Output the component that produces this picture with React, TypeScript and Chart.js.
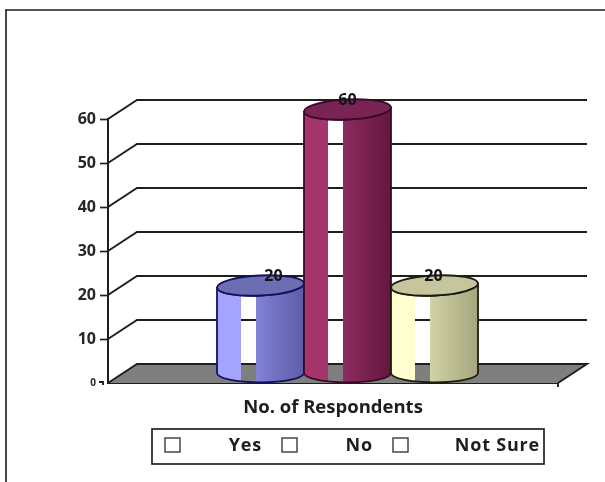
import React, { useEffect, useRef } from "react";
import { Chart, registerables } from "chart.js";

Chart.register(...registerables);

const categories = ["No. of Respondents"];
const seriesNames = ["Yes", "No", "Not Sure"];
const yesValues = [20];
const noValues = [60];
const notSureValues = [20];

const FONT = "'Open Sans'";
const INK = "#262626";

// Perspective of the chart box: how far the back wall sits from the front plane.
const DEPTH_X = 29;
const DEPTH_Y = 19;
const ELLIPSE_RY = 10;
const CAP_TILT = -0.05;

// Shading per cylinder: left face, right face start, right face end, top cap, outline.
const shades = [
  ["#a4a4ff", "#8282d8", "#5c5ca6", "#6c6eb4", "#12125c"],
  ["#a5356c", "#8c2c60", "#64163e", "#7a2456", "#3a0a28"],
  ["#ffffd0", "#d2d2a6", "#a6a67e", "#c6c69e", "#1c1c10"],
];
const labelNudge = [13, 0, -1];

const cylinderBox = {
  id: "cylinderBox",
  beforeDraw(chart: any) {
    const { ctx, width, height } = chart;
    ctx.save();
    ctx.fillStyle = "#ffffff";
    ctx.fillRect(0, 0, width, height);
    // Outer frame: top and left edges only
    ctx.strokeStyle = "#1c1c1c";
    ctx.lineWidth = 1.6;
    ctx.beginPath();
    ctx.moveTo(6, height);
    ctx.lineTo(6, 10);
    ctx.moveTo(5, 10);
    ctx.lineTo(width, 10);
    ctx.stroke();
    ctx.restore();
  },
  beforeDatasetsDraw(chart: any) {
    const { ctx, chartArea, scales } = chart;
    const y = scales.y;
    const { left, right } = chartArea;
    const base = y.getPixelForValue(0);
    ctx.save();
    // Floor
    ctx.fillStyle = "#7f7f7f";
    ctx.beginPath();
    ctx.moveTo(left, base);
    ctx.lineTo(left + DEPTH_X, base - DEPTH_Y);
    ctx.lineTo(right + DEPTH_X, base - DEPTH_Y);
    ctx.lineTo(right, base);
    ctx.closePath();
    ctx.fill();
    // Gridlines run along the side wall, then across the back wall
    ctx.strokeStyle = "#1e1e1e";
    ctx.lineWidth = 1.9;
    y.ticks.forEach((t: any) => {
      const py = y.getPixelForValue(t.value);
      ctx.beginPath();
      ctx.moveTo(left, py);
      ctx.lineTo(left + DEPTH_X, py - DEPTH_Y);
      ctx.lineTo(right + DEPTH_X, py - DEPTH_Y);
      if (t.value === 0) ctx.lineTo(right, py);
      ctx.stroke();
    });
    // Small tick at the right end of the floor, and the stub beside the zero label
    ctx.beginPath();
    ctx.moveTo(right, base);
    ctx.lineTo(right, base + 4);
    ctx.moveTo(left - 9, base - 1);
    ctx.lineTo(left - 5, base - 1);
    ctx.lineTo(left - 5, base + 2);
    ctx.stroke();
    ctx.restore();
  },
  afterDatasetsDraw(chart: any) {
    const { ctx } = chart;
    chart.data.datasets.forEach((ds: any, i: number) => {
      const el = chart.getDatasetMeta(i).data[0];
      const [faceL, faceR1, faceR2, cap, line] = shades[i];
      const cx = el.x + DEPTH_X / 2;
      const rx = el.width / 2;
      const topY = el.y - 9.5;
      const botY = el.base - 9.5;
      const rise = rx * Math.sin(-CAP_TILT);
      ctx.save();
      // Body, with a see-through band left of centre
      const g = ctx.createLinearGradient(cx - rx, 0, cx + rx, 0);
      g.addColorStop(0, faceL);
      g.addColorStop(0.28, faceL);
      g.addColorStop(0.28, "rgba(255,255,255,0)");
      g.addColorStop(0.45, "rgba(255,255,255,0)");
      g.addColorStop(0.45, faceR1);
      g.addColorStop(1, faceR2);
      ctx.beginPath();
      ctx.moveTo(cx - rx, topY + rise);
      ctx.lineTo(cx - rx, botY);
      ctx.ellipse(cx, botY, rx, 9.5, 0, Math.PI, 0, true);
      ctx.lineTo(cx + rx, topY - rise);
      ctx.ellipse(cx, topY, rx, ELLIPSE_RY, CAP_TILT, 0, Math.PI, false);
      ctx.closePath();
      ctx.fillStyle = g;
      ctx.fill();
      ctx.strokeStyle = line;
      ctx.lineWidth = 1.8;
      ctx.stroke();
      // Top cap
      ctx.beginPath();
      ctx.ellipse(cx, topY, rx, ELLIPSE_RY, CAP_TILT, 0, Math.PI * 2);
      ctx.fillStyle = cap;
      ctx.fill();
      ctx.stroke();
      // Value label
      ctx.fillStyle = "#141414";
      ctx.font = `bold 16px ${FONT}`;
      ctx.textAlign = "center";
      ctx.textBaseline = "middle";
      ctx.fillText(String(ds.data[0]), cx + labelNudge[i], topY - 9);
      ctx.restore();
    });
  },
  afterDraw(chart: any) {
    const { ctx } = chart;
    ctx.save();
    // Legend frame
    ctx.strokeStyle = "#222222";
    ctx.lineWidth = 1.7;
    ctx.strokeRect(152, 429, 392, 35);
    const swatchX = [165, 282, 393];
    const textRight = [262, 373, 540];
    ctx.font = `bold 18px ${FONT}`;
    ctx.letterSpacing = "0.8px";
    ctx.textBaseline = "middle";
    ctx.textAlign = "right";
    chart.data.datasets.forEach((ds: any, i: number) => {
      ctx.strokeStyle = "#3a3a3a";
      ctx.lineWidth = 1.4;
      ctx.strokeRect(swatchX[i], 438, 15, 14);
      ctx.fillStyle = "#1e1e1e";
      ctx.fillText(ds.label, textRight[i], 446);
    });
    ctx.restore();
  },
};

export default function App() {
  const ref = useRef<HTMLCanvasElement>(null);

  useEffect(() => {
    const chart = new Chart(ref.current!, {
      type: "bar",
      data: {
        labels: categories,
        datasets: [
          { label: seriesNames[0], data: yesValues, backgroundColor: "rgba(0,0,0,0)" },
          { label: seriesNames[1], data: noValues, backgroundColor: "rgba(0,0,0,0)" },
          { label: seriesNames[2], data: notSureValues, backgroundColor: "rgba(0,0,0,0)" },
        ],
      },
      options: {
        responsive: false,
        animation: false,
        layout: { padding: { left: 8, right: 47, top: 119, bottom: 0 } },
        datasets: { bar: { categoryPercentage: 0.58, barPercentage: 1 } },
        plugins: { legend: { display: false }, tooltip: { enabled: false } },
        scales: {
          x: {
            grid: { display: false, drawTicks: false },
            border: { display: true, color: "#1e1e1e", width: 2 },
            afterFit: (s: any) => {
              s.height = 99;
            },
            ticks: {
              padding: 14,
              color: "#1e1e1e",
              font: { family: FONT, size: 18.5, weight: "bold" },
            },
          },
          y: {
            min: 0,
            max: 60,
            afterFit: (s: any) => {
              s.width = 100;
            },
            grid: {
              display: true,
              drawOnChartArea: false,
              tickLength: 8,
              tickWidth: 1.7,
              tickColor: (c: any) => (c.tick.value === 0 ? "rgba(0,0,0,0)" : "#222222"),
            },
            border: { display: true, color: "#1e1e1e", width: 2 },
            ticks: {
              stepSize: 10,
              padding: 4,
              color: INK,
              font: (c: any) => ({
                family: FONT,
                size: c.tick && c.tick.value === 0 ? 10 : 16,
                weight: "bold",
              }),
            },
          },
        },
      },
      plugins: [cylinderBox],
    } as any);
    return () => chart.destroy();
  }, []);

  return (
    <div style={{ position: "fixed", left: 0, top: 0, width: 605, height: 482 }}>
      <canvas ref={ref} width={605} height={482} style={{ display: "block" }} />
    </div>
  );
}
